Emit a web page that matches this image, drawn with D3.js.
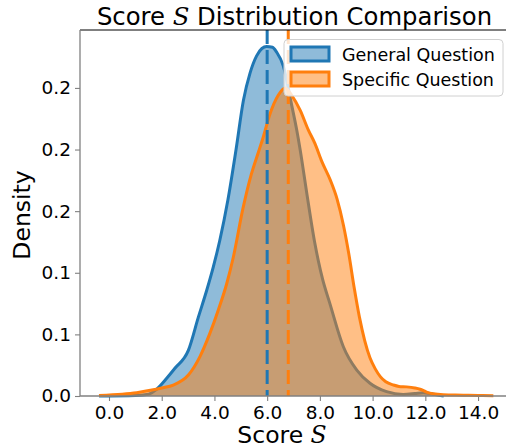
<!DOCTYPE html>
<html><head><meta charset="utf-8">
<script src="https://cdn.jsdelivr.net/npm/d3@7"></script>
<style>body{margin:0;background:#fff}svg{display:block;font-family:"DejaVu Sans",sans-serif}</style>
</head><body><svg id="c" width="506" height="448"></svg>
<script>
const generalX = [-0.38, 1.0, 1.5, 1.78, 2.19, 2.5, 3.01, 3.39, 3.71, 3.96, 4.2, 4.51, 4.82, 5.1, 5.35, 5.6, 5.8, 5.98, 6.2, 6.36, 6.61, 6.93, 7.12, 7.25, 7.5, 7.8, 8.1, 8.38, 8.89, 9.4, 9.9, 10.53, 11.16, 11.6, 11.92, 12.3, 12.7];
const generalY = [0, 0.0005, 0.0015, 0.005, 0.0144, 0.0225, 0.037, 0.064, 0.086, 0.105, 0.126, 0.159, 0.2, 0.240, 0.262, 0.276, 0.282, 0.2836, 0.283, 0.279, 0.268, 0.236, 0.216, 0.200, 0.165, 0.125, 0.095, 0.075, 0.040, 0.021, 0.0103, 0.0035, 0.0013, 0.002, 0.0027, 0.0015, 0];
const specificX = [-0.38, 0.5, 1.05, 1.68, 2.0, 2.44, 3.01, 3.45, 3.83, 4.15, 4.47, 4.72, 5.08, 5.4, 5.67, 5.85, 6.11, 6.42, 6.68, 6.93, 7.25, 7.56, 7.81, 8.08, 8.4, 8.65, 8.9, 9.1, 9.3, 9.5, 9.7, 9.9, 10.1, 10.3, 10.5, 10.79, 11.0, 11.29, 11.6, 11.8, 12.05, 12.3, 12.68, 13.44, 14.0, 14.58];
const specificY = [0.0005, 0.0015, 0.0027, 0.005, 0.0065, 0.0089, 0.017, 0.032, 0.051, 0.070, 0.0915, 0.113, 0.152, 0.18, 0.198, 0.21, 0.229, 0.244, 0.250, 0.244, 0.232, 0.216, 0.205, 0.19, 0.175, 0.16, 0.138, 0.115, 0.088, 0.064, 0.045, 0.031, 0.022, 0.0155, 0.0115, 0.0089, 0.0078, 0.0074, 0.0065, 0.0055, 0.0032, 0.0018, 0.0010, 0.0007, 0.0004, 0.0002];
const means = [6.0, 6.8];
const seriesNames = ["General Question", "Specific Question"];
const xTicks = [0, 2, 4, 6, 8, 10, 12, 14];
const xTickLabels = ["0.0", "2.0", "4.0", "6.0", "8.0", "10.0", "12.0", "14.0"];
const yTicks = [0, 0.05, 0.10, 0.15, 0.20, 0.25];
const yTickLabels = ["0.0", "0.1", "0.1", "0.2", "0.2", "0.2"];

const colors = ["#1f77b4", "#ff7f0e"];
const fills = ["rgba(31,119,180,0.5)", "rgba(255,127,14,0.5)"];
const svg = d3.select("#c");
const L = 80, R = 511, T = 30, B = 396;
const x = d3.scaleLinear().domain([-1.1, 15.25]).range([L, R]);
const y = d3.scaleLinear().domain([0, 0.297]).range([B, T]);

const series = [
  generalX.map((v, i) => [v, generalY[i]]),
  specificX.map((v, i) => [v, specificY[i]])
];
const area = d3.area().x(d => x(d[0])).y0(y(0)).y1(d => y(d[1])).curve(d3.curveMonotoneX);
const line = d3.line().x(d => x(d[0])).y(d => y(d[1])).curve(d3.curveMonotoneX);

// axes
const gx = svg.append("g").attr("transform", `translate(0,${B})`)
  .call(d3.axisBottom(x).tickValues(xTicks).tickFormat((d, i) => xTickLabels[i]).tickSize(5).tickPadding(5));
const gy = svg.append("g").attr("transform", `translate(${L},0)`)
  .call(d3.axisLeft(y).tickValues(yTicks).tickFormat((d, i) => yTickLabels[i]).tickSize(5).tickPadding(4));
[gx, gy].forEach(g => {
  g.select(".domain").remove();
  g.selectAll(".tick line").attr("stroke", "#808080").attr("stroke-width", 1.1);
  g.selectAll(".tick text").attr("fill", "#000").style("font-size", "18.5px").style("font-family", "DejaVu Sans");
});
gx.selectAll(".tick text").attr("dy", null).attr("y", 23).attr("dominant-baseline", "auto");

series.forEach((s, i) => {
  svg.append("path").datum(s).attr("d", area).attr("fill", fills[i]);
  svg.append("path").datum(s).attr("d", line).attr("fill", "none").attr("stroke", colors[i]).attr("stroke-width", 3).attr("stroke-linejoin", "round");
});

means.forEach((m, i) => {
  svg.append("line").attr("x1", x(m)).attr("x2", x(m)).attr("y1", T).attr("y2", B)
    .attr("stroke", colors[i]).attr("stroke-width", 3).attr("stroke-dasharray", "14,6");
});

// spines
svg.append("line").attr("x1", L).attr("x2", 506).attr("y1", T).attr("y2", T).attr("stroke", "#000").attr("stroke-width", 1);
svg.append("line").attr("x1", L).attr("x2", 506).attr("y1", B).attr("y2", B).attr("stroke", "#808080").attr("stroke-width", 1.3);
svg.append("line").attr("x1", L).attr("x2", L).attr("y1", T).attr("y2", B).attr("stroke", "#808080").attr("stroke-width", 1.3);

// title & labels
const title = svg.append("text").attr("x", 294.5).attr("y", 24.5).attr("text-anchor", "middle").style("font-size", "24.3px");
title.append("tspan").text("Score ");
title.append("tspan").style("font-style", "italic").style("font-family", "DejaVu Serif").text("S");
title.append("tspan").text(" Distribution Comparison");

const xl = svg.append("text").attr("x", 282).attr("y", 443).attr("text-anchor", "middle").style("font-size", "23.5px");
xl.append("tspan").text("Score ");
xl.append("tspan").style("font-style", "italic").style("font-family", "DejaVu Serif").text("S");

svg.append("text").attr("transform", "translate(30,215) rotate(-90)").attr("text-anchor", "middle").style("font-size", "23.5px").text("Density");

// legend
const lg = svg.append("g");
lg.append("rect").attr("x", 284).attr("y", 39.5).attr("width", 219).attr("height", 56.5).attr("rx", 4)
  .attr("fill", "rgba(255,255,255,0.8)").attr("stroke", "#d0d0d0").attr("stroke-width", 1);
seriesNames.forEach((n, i) => {
  const cy = 54 + i * 25;
  lg.append("rect").attr("x", 291).attr("y", cy - 7).attr("width", 38).attr("height", 14)
    .attr("fill", fills[i]).attr("stroke", colors[i]).attr("stroke-width", 3);
  lg.append("text").attr("x", 342).attr("y", cy + 6.5).style("font-size", "17.5px").text(n);
});
</script></body></html>
